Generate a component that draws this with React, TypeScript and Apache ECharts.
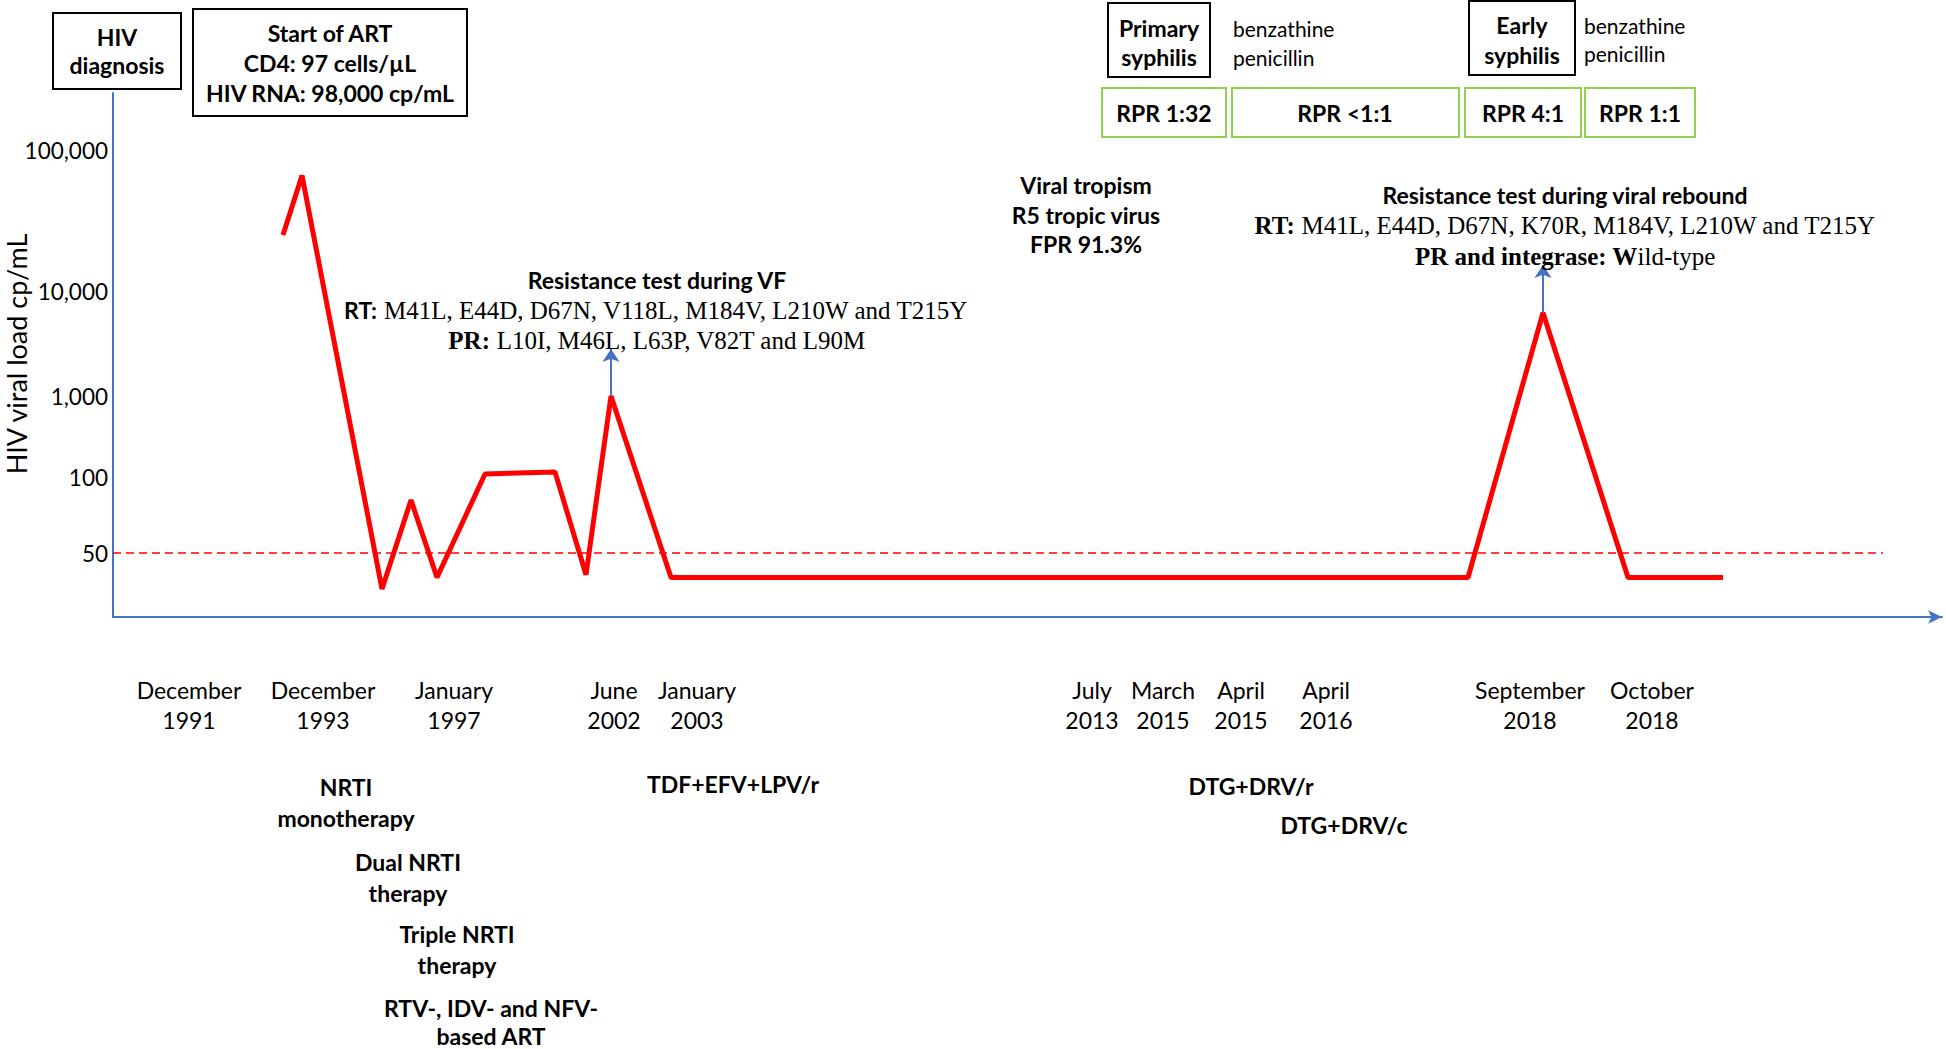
import React, { useEffect, useRef } from "react";
import * as echarts from "echarts";

// ---- data ----
// timeline positions (non-proportional timeline units) of the viral load measurements
const eventPos = [170, 189, 269, 298, 324, 372, 442, 473, 498, 558, 1355, 1430, 1515, 1610];
// HIV viral load (cp/mL) at each measurement
const viralLoad = [25000, 66000, 36, 81, 40, 109, 115, 41, 1000, 40, 40, 6200, 40, 40];

// x axis date labels and their timeline positions
const dateLabels = [
  "December\n1991", "December\n1993", "January\n1997", "June\n2002", "January\n2003",
  "July\n2013", "March\n2015", "April\n2015", "April\n2016", "September\n2018", "October\n2018",
];
const datePos = [76, 210, 341, 501, 584, 979, 1050, 1128, 1213, 1417, 1539];
const timelineMax = 1829;

// y axis (non-uniform, figure-specific) scale
const yTickValues = [50, 100, 1000, 10000, 100000];
const yTickLabels = ["50", "100", "1,000", "10,000", "100,000"];
const yTickLevels = [64, 140, 221, 326, 467];
const yLevelMax = 524;
const yAxisTitle = "HIV viral load cp/mL";

// threshold and resistance-test arrows
const thresholdLoad = 50;
const thresholdEnd = 1770;
const arrowPos = [498, 1430];
const arrowFromLoad = [1000, 6200];
const arrowToLoad = [2800, 15300];

function toLevel(v: number): number {
  const lv = Math.log10(v);
  const lt = yTickValues.map((t) => Math.log10(t));
  let i = 0;
  if (lv <= lt[0]) i = 0;
  else if (lv >= lt[lt.length - 1]) i = lt.length - 2;
  else {
    while (i < lt.length - 2 && lv > lt[i + 1]) i++;
  }
  const f = (lv - lt[i]) / (lt[i + 1] - lt[i]);
  return yTickLevels[i] + f * (yTickLevels[i + 1] - yTickLevels[i]);
}

const SANS = 'Lato, "Noto Sans", sans-serif';
const SERIF = '"Liberation Serif", "DejaVu Serif", serif';

function txt(x: number, y: number, text: string, o: any = {}) {
  return {
    type: "text",
    x,
    y,
    z: 10,
    rotation: o.rotation || 0,
    style: {
      text,
      fill: "#000",
      fontFamily: o.family || SANS,
      fontSize: o.size || 23,
      fontWeight: o.weight || "bold",
      align: o.align || "center",
      verticalAlign: "middle",
      rich: o.rich,
    },
  };
}
function box(x: number, y: number, w: number, h: number, color = "#000") {
  return {
    type: "rect",
    z: 5,
    shape: { x, y, width: w, height: h },
    style: { fill: "#fff", stroke: color, lineWidth: 2 },
  };
}

const serifRich = {
  s: { fontFamily: SANS, fontWeight: "bold", fontSize: 23 },
  b: { fontFamily: SERIF, fontWeight: "bold", fontSize: 25 },
};
const serifOpt = { family: SERIF, weight: "normal", size: 25, rich: serifRich };

export default function App() {
  const ref = useRef<HTMLDivElement>(null);
  useEffect(() => {
    const chart = echarts.init(ref.current!, undefined, { renderer: "svg" });
    const lineData = eventPos.map((x, i) => [x, toLevel(viralLoad[i])]);
    const thr = toLevel(thresholdLoad);
    const graphic: any[] = [
      txt(16, 354, yAxisTitle, { weight: "normal", size: 27, rotation: Math.PI / 2 }),
      box(53, 13, 128, 76),
      txt(117, 37, "HIV"),
      txt(117, 65, "diagnosis"),
      box(193, 9, 274, 107),
      txt(330, 33, "Start of ART"),
      txt(330, 63, "CD4: 97 cells/µL"),
      txt(330, 93, "HIV RNA: 98,000 cp/mL"),
      box(1108, 3, 102, 74),
      txt(1159, 28, "Primary"),
      txt(1159, 57, "syphilis"),
      txt(1233, 28, "benzathine", { weight: "normal", size: 21, align: "left" }),
      txt(1233, 57, "penicillin", { weight: "normal", size: 21, align: "left" }),
      box(1469, 1, 106, 74),
      txt(1522, 25, "Early"),
      txt(1522, 55, "syphilis"),
      txt(1584, 25, "benzathine", { weight: "normal", size: 21, align: "left" }),
      txt(1584, 53, "penicillin", { weight: "normal", size: 21, align: "left" }),
      box(1102, 88, 124, 49, "#92D050"),
      box(1232, 88, 227, 49, "#92D050"),
      box(1465, 88, 116, 49, "#92D050"),
      box(1585, 88, 110, 49, "#92D050"),
      txt(1164, 113, "RPR 1:32"),
      txt(1345, 113, "RPR <1:1"),
      txt(1523, 113, "RPR 4:1"),
      txt(1640, 113, "RPR 1:1"),
      // resistance test during VF
      txt(657, 280, "Resistance test during VF"),
      txt(656, 310, "{s|RT:} M41L, E44D, D67N, V118L, M184V, L210W and T215Y", serifOpt),
      txt(657, 340, "{b|PR:} L10I, M46L, L63P, V82T and L90M", serifOpt),
      // tropism
      txt(1086, 185, "Viral tropism"),
      txt(1086, 215, "R5 tropic virus"),
      txt(1086, 244, "FPR 91.3%"),
      // rebound
      txt(1565, 195, "Resistance test during viral rebound"),
      txt(1565, 225, "{b|RT:} M41L, E44D, D67N, K70R, M184V, L210W and T215Y", serifOpt),
      txt(1565, 256, "{b|PR and integrase: W}ild-type", serifOpt),
      // therapies
      txt(346, 787, "NRTI"),
      txt(346, 818, "monotherapy"),
      txt(408, 862, "Dual NRTI"),
      txt(408, 893, "therapy"),
      txt(457, 934, "Triple NRTI"),
      txt(457, 965, "therapy"),
      txt(491, 1008, "RTV-, IDV- and NFV-"),
      txt(491, 1036, "based ART"),
      txt(733, 784, "TDF+EFV+LPV/r"),
      txt(1251, 786, "DTG+DRV/r"),
      txt(1344, 825, "DTG+DRV/c"),
    ];

    chart.setOption({
      animation: false,
      backgroundColor: "#fff",
      grid: {
        left: 113,
        right: 4,
        top: 93,
        bottom: 432,
        containLabel: false,
        outerBoundsMode: "none",
      },
      xAxis: {
        type: "value",
        min: 0,
        max: timelineMax,
        splitLine: { show: false },
        axisTick: { show: false },
        axisLine: {
          show: true,
          lineStyle: { color: "#4472C4", width: 2 },
          symbol: ["none", "arrow"],
          symbolSize: [10, 14],
        },
        axisLabel: {
          customValues: datePos,
          formatter: (v: number) => {
            const i = datePos.indexOf(v);
            return i >= 0 ? dateLabels[i] : "";
          },
          color: "#000",
          fontFamily: SANS,
          fontSize: 23,
          lineHeight: 30,
          margin: 58,
        },
      },
      yAxis: {
        type: "value",
        min: 0,
        max: yLevelMax,
        splitLine: { show: false },
        axisTick: { show: false },
        axisLine: { show: true, lineStyle: { color: "#4472C4", width: 2 } },
        axisLabel: {
          customValues: yTickLevels,
          formatter: (v: number) => {
            const i = yTickLevels.indexOf(v);
            return i >= 0 ? yTickLabels[i] : "";
          },
          color: "#000",
          fontFamily: SANS,
          fontSize: 22.5,
          margin: 5,
        },
      },
      series: [
        {
          type: "line",
          data: lineData,
          symbol: "none",
          lineStyle: { color: "#FF0000", width: 5 },
          z: 3,
          markLine: {
            silent: true,
            symbol: ["none", "none"],
            label: { show: false },
            lineStyle: { color: "#FF0000", width: 1.5, type: [8, 5] },
            data: [[{ coord: [0, thr] }, { coord: [thresholdEnd, thr] }]],
          },
        },
        {
          type: "line",
          data: [],
          markLine: {
            silent: true,
            symbol: ["none", "arrow"],
            symbolSize: 13,
            label: { show: false },
            lineStyle: { color: "#4472C4", width: 2, type: "solid" },
            data: arrowPos.map((x, i) => [
              { coord: [x, toLevel(arrowFromLoad[i])] },
              { coord: [x, toLevel(arrowToLoad[i])] },
            ]),
          },
        },
      ],
      graphic,
    });
    return () => chart.dispose();
  }, []);
  return (
    <div
      ref={ref}
      style={{ position: "fixed", left: 0, top: 0, width: "1946px", height: "1049px" }}
    />
  );
}
